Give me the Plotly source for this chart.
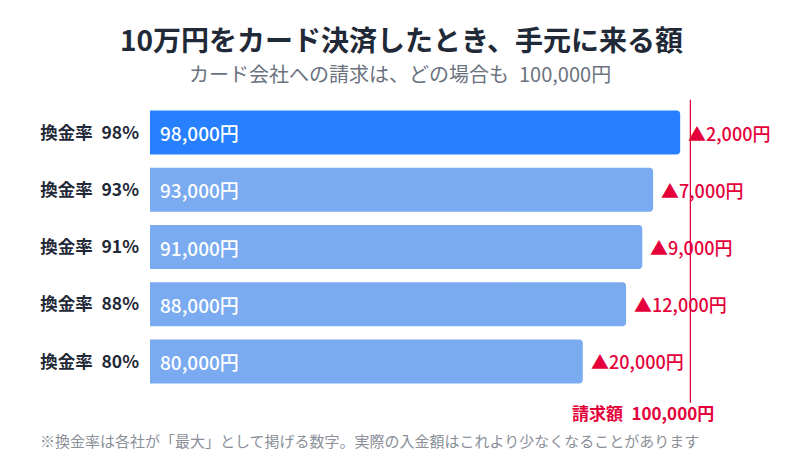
import plotly.graph_objects as go

# data
rates = ["換金率\u200298%", "換金率\u200293%", "換金率\u200291%",
         "換金率\u200288%", "換金率\u200280%"]
received = [98000, 93000, 91000, 88000, 80000]
billed = 100000

FONT = "Noto Sans CJK JP"
RED = "#E4003A"
colors = ["#2680FF"] + ["#7AAAF0"] * (len(received) - 1)

L, R, T, B = 150, 109, 104, 60

fig = go.Figure(go.Bar(
    x=received, y=rates, orientation="h",
    marker=dict(color=colors, line=dict(width=0)),
    width=0.77,
    hoverinfo="skip",
))

for r, v in zip(rates, received):
    # amount inside the bar
    fig.add_annotation(x=0, y=r, xref="x", yref="y", text=f"{v:,}円",
                       showarrow=False, xanchor="left", xshift=8,
                       font=dict(family=FONT, size=19, color="white", weight=500))
    # shortfall to the right of the bar
    fig.add_annotation(x=v, y=r, xref="x", yref="y", text=f"▲{billed - v:,}円",
                       showarrow=False, xanchor="left", xshift=6,
                       font=dict(family=FONT, size=18, color=RED, weight=500))

# billed amount reference line
fig.add_shape(type="line", x0=billed, x1=billed, xref="x", yref="paper",
              y0=-0.045, y1=1.015, line=dict(color=RED, width=2.5))
fig.add_annotation(x=billed, y=-0.08, xref="x", yref="paper", text=f"<b>請求額\u2002{billed:,}円</b>",
                   showarrow=False, xanchor="right", yanchor="middle", xshift=25,
                   font=dict(family=FONT, size=17, color=RED))

fig.update_layout(
    width=800, height=450,
    margin=dict(l=L, r=R, t=T, b=B),
    paper_bgcolor="white", plot_bgcolor="white",
    showlegend=False, barcornerradius=4,
    font=dict(family=FONT),
    xaxis=dict(range=[0, billed], visible=False, fixedrange=True),
    yaxis=dict(autorange="reversed", showgrid=False, zeroline=False, showline=False,
               ticks="", ticklabelstandoff=10, automargin=False, fixedrange=True,
               tickfont=dict(family=FONT, size=17.5, color="#1F2937", weight="bold")),
)


# titles and footnote placed in pixels via paper coords
def py(pix):
    return (450 - B - pix) / (450 - T - B)


def px(pix):
    return (pix - L) / (800 - L - R)


fig.add_annotation(x=px(401), y=py(39), xref="paper", yref="paper", showarrow=False,
                   text="<b>10万円をカード決済したとき、手元に来る額</b>", xanchor="center", yanchor="middle",
                   font=dict(family=FONT, size=28, color="#1F2937"))
fig.add_annotation(x=px(400), y=py(73), xref="paper", yref="paper", showarrow=False,
                   text="カード会社への請求は、どの場合も\u2002100,000円", xanchor="center", yanchor="middle",
                   font=dict(family=FONT, size=20, color="#6B7280"))
fig.add_annotation(x=px(38), y=py(440), xref="paper", yref="paper", showarrow=False,
                   text="※換金率は各社が「最大」として掲げる数字。実際の入金額はこれより少なくなることがあります",
                   xanchor="left", yanchor="middle",
                   font=dict(family=FONT, size=15, color="#8A8F98"))

fig.write_html("out.html", config={"displayModeBar": False},
               post_script="document.body.style.margin='0px';")
